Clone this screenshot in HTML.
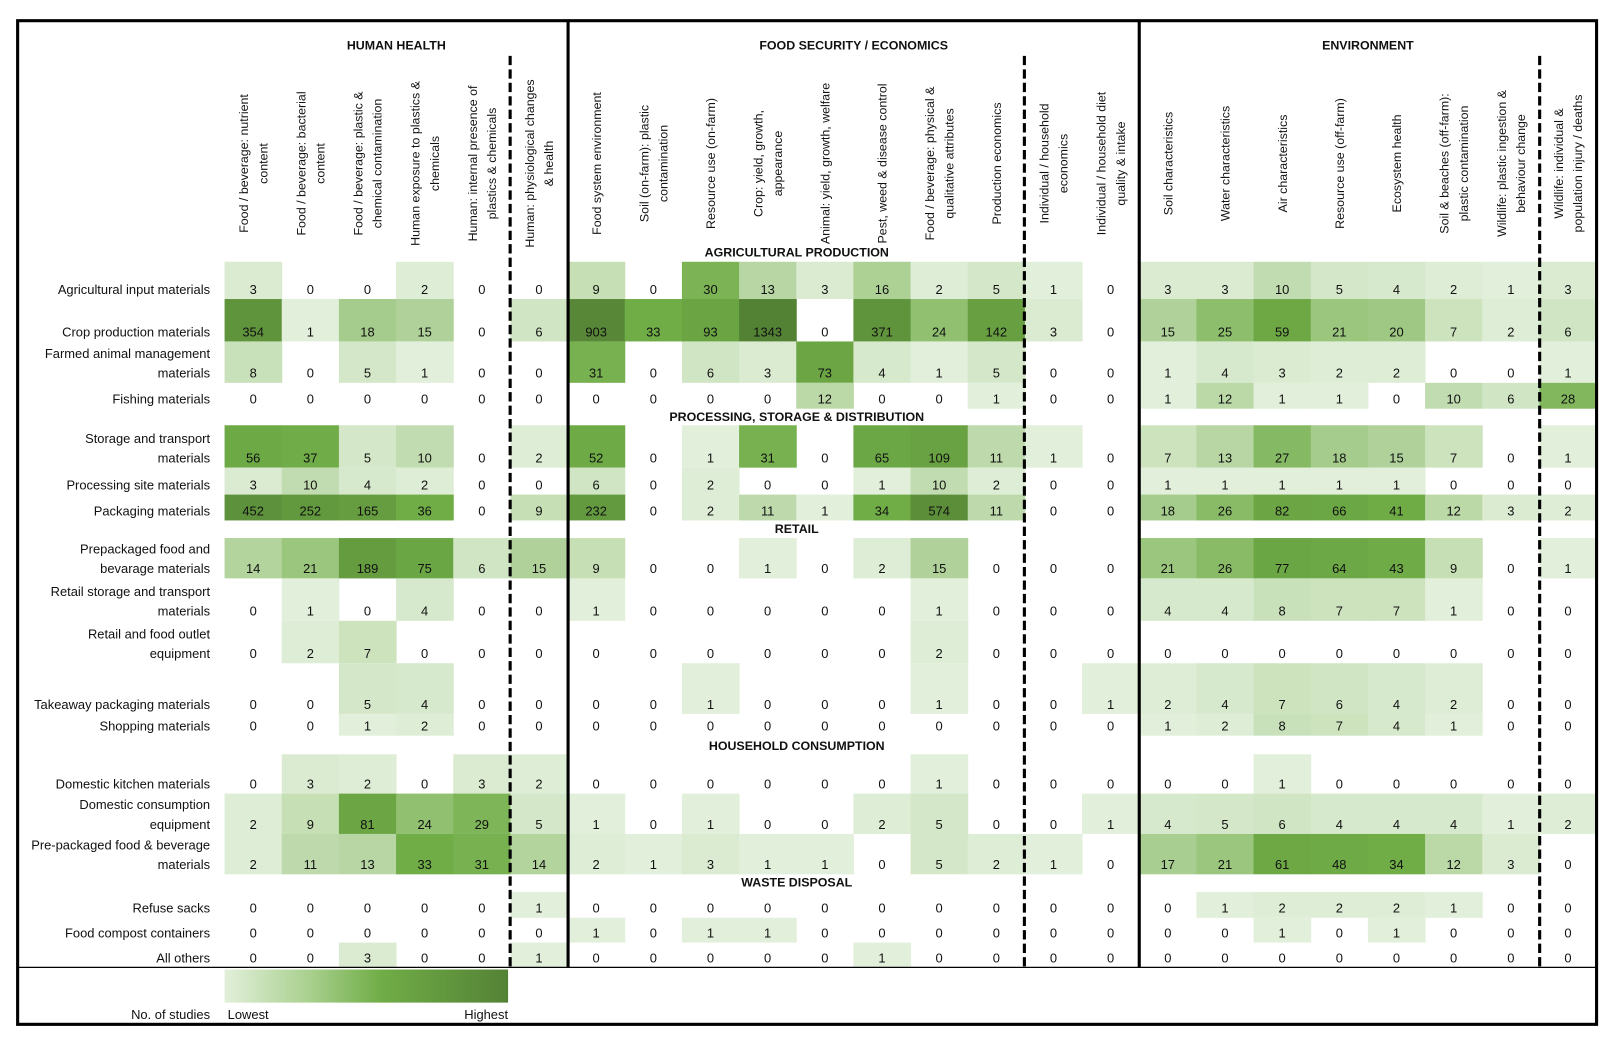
<!DOCTYPE html>
<html><head><meta charset="utf-8"><style>
html,body{margin:0;padding:0;background:#fff;}
svg{display:block;font-family:"Liberation Sans",sans-serif;}
</style></head><body>
<svg id="chart" width="1623" height="1053" viewBox="0 0 1568.5 1017.7" xmlns="http://www.w3.org/2000/svg">
<defs><linearGradient id="lg" x1="0" x2="1" y1="0" y2="0">
<stop offset="0" stop-color="#e2efda"/><stop offset="0.3" stop-color="#a9d08e"/><stop offset="0.55" stop-color="#70ad47"/><stop offset="1" stop-color="#548235"/></linearGradient></defs>
<g id="cells"></g><g id="texts"></g><g id="lines"></g>
</svg>
<script>
const columnLabels = [
 ["Food / beverage: nutrient","content"],["Food / beverage: bacterial","content"],["Food / beverage: plastic &","chemical contamination"],["Human exposure to plastics &","chemicals"],["Human: internal presence of","plastics & chemicals"],["Human: physiological changes","& health"],
 ["Food system environment"],["Soil (on-farm): plastic","contamination"],["Resource use (on-farm)"],["Crop: yield, growth,","appearance"],["Animal: yield, growth, welfare"],["Pest, weed & disease control"],["Food / beverage: physical &","qualitative attributes"],["Production economics"],["Individual / household","economics"],["Individual / household diet","quality & intake"],
 ["Soil characteristics"],["Water characteristics"],["Air characteristics"],["Resource use (off-farm)"],["Ecosystem health"],["Soil & beaches (off-farm):","plastic contamination"],["Wildlife: plastic ingestion &","behaviour change"],["Wildlife: individual &","population injury / deaths"]
];
const rowLabels = [
 ["Agricultural input materials"],["Crop production materials"],["Farmed animal management","materials"],["Fishing materials"],
 ["Storage and transport","materials"],["Processing site materials"],["Packaging materials"],
 ["Prepackaged food and","bevarage materials"],["Retail storage and transport","materials"],["Retail and food outlet","equipment"],["Takeaway packaging materials"],["Shopping materials"],
 ["Domestic kitchen materials"],["Domestic consumption","equipment"],["Pre-packaged food & beverage","materials"],
 ["Refuse sacks"],["Food compost containers"],["All others"]
];
const values = [
 [3,0,0,2,0,0, 9,0,30,13,3,16,2,5,1,0, 3,3,10,5,4,2,1,3],
 [354,1,18,15,0,6, 903,33,93,1343,0,371,24,142,3,0, 15,25,59,21,20,7,2,6],
 [8,0,5,1,0,0, 31,0,6,3,73,4,1,5,0,0, 1,4,3,2,2,0,0,1],
 [0,0,0,0,0,0, 0,0,0,0,12,0,0,1,0,0, 1,12,1,1,0,10,6,28],
 [56,37,5,10,0,2, 52,0,1,31,0,65,109,11,1,0, 7,13,27,18,15,7,0,1],
 [3,10,4,2,0,0, 6,0,2,0,0,1,10,2,0,0, 1,1,1,1,1,0,0,0],
 [452,252,165,36,0,9, 232,0,2,11,1,34,574,11,0,0, 18,26,82,66,41,12,3,2],
 [14,21,189,75,6,15, 9,0,0,1,0,2,15,0,0,0, 21,26,77,64,43,9,0,1],
 [0,1,0,4,0,0, 1,0,0,0,0,0,1,0,0,0, 4,4,8,7,7,1,0,0],
 [0,2,7,0,0,0, 0,0,0,0,0,0,2,0,0,0, 0,0,0,0,0,0,0,0],
 [0,0,5,4,0,0, 0,0,1,0,0,0,1,0,0,1, 2,4,7,6,4,2,0,0],
 [0,0,1,2,0,0, 0,0,0,0,0,0,0,0,0,0, 1,2,8,7,4,1,0,0],
 [0,3,2,0,3,2, 0,0,0,0,0,0,1,0,0,0, 0,0,1,0,0,0,0,0],
 [2,9,81,24,29,5, 1,0,1,0,0,2,5,0,0,1, 4,5,6,4,4,4,1,2],
 [2,11,13,33,31,14, 2,1,3,1,1,0,5,2,1,0, 17,21,61,48,34,12,3,0],
 [0,0,0,0,0,1, 0,0,0,0,0,0,0,0,0,0, 0,1,2,2,2,1,0,0],
 [0,0,0,0,0,0, 1,0,1,1,0,0,0,0,0,0, 0,0,1,0,1,0,0,0],
 [0,0,3,0,0,1, 0,0,0,0,0,1,0,0,0,0, 0,0,0,0,0,0,0,0]
];
const groupTitles = ["HUMAN HEALTH","FOOD SECURITY / ECONOMICS","ENVIRONMENT"];
const sectionTitles = ["AGRICULTURAL PRODUCTION","PROCESSING, STORAGE & DISTRIBUTION","RETAIL","HOUSEHOLD CONSUMPTION","WASTE DISPOSAL"];

// layout (not data)
const X0=217, CW=55.25;
const rowTop=[253,289,330,370,411,452,478,520,559,600,641,690,729,767,806,862,887,911];
const rowBot=[289,330,370,395,452,478,503,559,600,641,690,711,767,806,845,887,911,935];
const sectionY=[244,403,511,721,853];
const NS="http://www.w3.org/2000/svg";
const cellsG=document.getElementById('cells'), textG=document.getElementById('texts'), linesG=document.getElementById('lines');
function mk(tag,attrs,parent){const e=document.createElementNS(NS,tag);for(const k in attrs)e.setAttribute(k,attrs[k]);parent.appendChild(e);return e;}
function colX(j){return X0+j*CW;}
function mix(a,b,f){return `rgb(${a.map((v,k)=>Math.round(v+(b[k]-v)*f)).join(',')})`;}
const C0=[226,239,218], C1=[112,173,71], C2=[84,130,53];
function color(v){
 if(v<=33){return mix(C0,C1,Math.max(0,(v-1)/32));}
 const t=Math.min(1,Math.log(v/33)/Math.log(1343/33));
 return mix(C1,C2,Math.pow(t,1.2));
}
values.forEach((row,i)=>{
 row.forEach((v,j)=>{
  const cx=colX(j)+CW/2;
  if(v>0){
   const r=mk('rect',{x:colX(j),y:rowTop[i],width:CW+0.5,height:rowBot[i]-rowTop[i],fill:color(v)},cellsG);
   
   
  }
  const tx=mk('text',{x:cx,y:rowBot[i]-5,'text-anchor':'middle','font-size':12.5,fill:'#111'},textG);
  tx.textContent=v;
  
  
 });
});
rowLabels.forEach((lines,i)=>{
 const by=rowBot[i]-5;
 lines.forEach((s,k)=>{
  const t=mk('text',{x:203,y:by-(lines.length-1-k)*19,'text-anchor':'end','font-size':12.5,fill:'#111'},textG);
  t.textContent=s;
  
  
 });
});
columnLabels.forEach((lines,j)=>{
 const cx=colX(j)+CW/2;
 const n=lines.length;
 lines.forEach((s,k)=>{
  const x=cx+(k-(n-1)/2)*18.5+4.5;
  const t=mk('text',{x:x,y:158,'text-anchor':'middle','font-size':12,fill:'#111',transform:`rotate(-90 ${x} 158)`},textG);
  t.textContent=s;
  
  
 });
});
const groupCx=[383,825,1322];
groupTitles.forEach((s,i)=>{
 const t=mk('text',{x:groupCx[i],y:48,'text-anchor':'middle','font-size':12,'font-weight':'bold',fill:'#111'},textG);
 t.textContent=s;
 
 
});
sectionTitles.forEach((s,i)=>{
 const t=mk('text',{x:770,y:sectionY[i]+4,'text-anchor':'middle','font-size':12,'font-weight':'bold',fill:'#111'},textG);
 t.textContent=s;
 
 
});
// lines
mk('rect',{x:17,y:20,width:1526,height:970,fill:'none',stroke:'#000','stroke-width':3},linesG);
mk('line',{x1:17,y1:935,x2:1543,y2:935,stroke:'#000','stroke-width':1.2},linesG);
[549,1101].forEach(x=>{const l=mk('line',{x1:x,y1:20,x2:x,y2:935,stroke:'#000','stroke-width':3},linesG);});
[493,990,1488].forEach(x=>{const l=mk('line',{x1:x,y1:54,x2:x,y2:937,stroke:'#000','stroke-width':3,'stroke-dasharray':'9 4'},linesG);});
// legend
const lr=mk('rect',{x:217,y:937,width:274,height:32,fill:'url(#lg)'},linesG);
[[203,'end','No. of studies','legend-title'],[220,'start','Lowest','legend-low'],[491,'end','Highest','legend-high']].forEach(a=>{
 const t=mk('text',{x:a[0],y:985,'text-anchor':a[1],'font-size':12.5,fill:'#111'},linesG);t.textContent=a[2];
 
 
});
</script>
</body></html>
